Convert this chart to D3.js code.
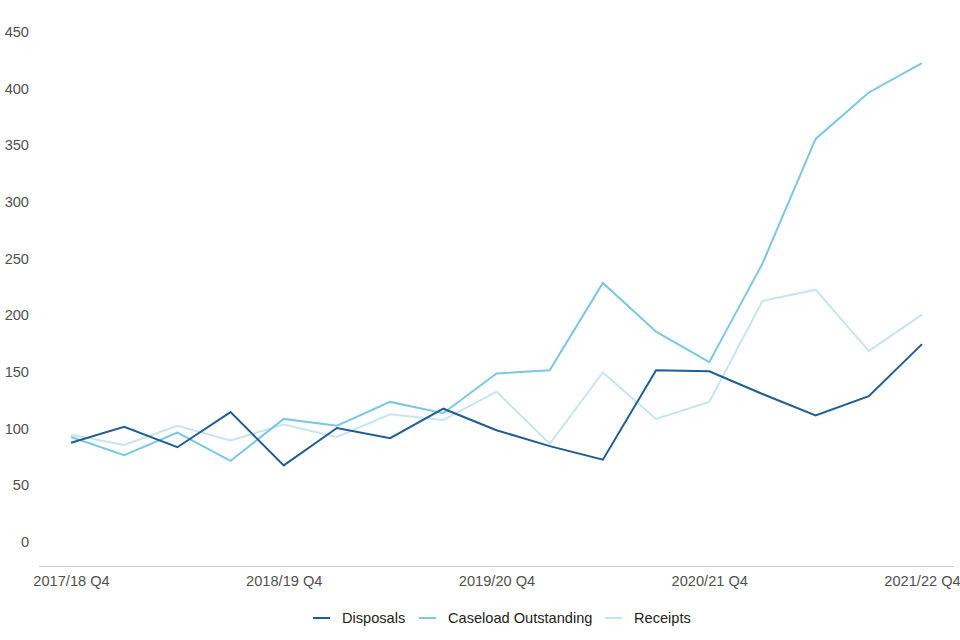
<!DOCTYPE html>
<html>
<head>
<meta charset="utf-8">
<script src="https://cdn.jsdelivr.net/npm/d3@7"></script>
<style>
  html, body { margin: 0; padding: 0; background: #fff; }
  svg { display: block; font-family: "Liberation Sans", Arial, Helvetica, sans-serif; }
</style>
</head>
<body>
<svg id="chart" width="960" height="640"></svg>
<script>
const quarters = [
  "2017/18 Q4", "2018/19 Q1", "2018/19 Q2", "2018/19 Q3",
  "2018/19 Q4", "2019/20 Q1", "2019/20 Q2", "2019/20 Q3",
  "2019/20 Q4", "2020/21 Q1", "2020/21 Q2", "2020/21 Q3",
  "2020/21 Q4", "2021/22 Q1", "2021/22 Q2", "2021/22 Q3",
  "2021/22 Q4"
];
const disposals = [87, 101, 83, 114, 67, 100, 91, 117, 98, 84, 72, 151, 150, 130, 111, 128, 174];
const caseload  = [92, 76, 96, 71, 108, 102, 123, 113, 148, 151, 228, 185, 158, 245, 355, 396, 422];
const receipts  = [94, 85, 102, 89, 103, 92, 112, 107, 132, 86, 149, 108, 123, 212, 222, 168, 200];
const seriesNames = ["Disposals", "Caseload Outstanding", "Receipts"];
const seriesColors = ["#1f5d98", "#7ac8e2", "#c8e4ee"];
const yTicks = [0, 50, 100, 150, 200, 250, 300, 350, 400, 450];
const xTickLabels = ["2017/18 Q4", "2018/19 Q4", "2019/20 Q4", "2020/21 Q4", "2021/22 Q4"];

const series = [disposals, caseload, receipts];
const svg = d3.select("#chart");
const fontSize = "14.6px";

const x = d3.scalePoint().domain(quarters).range([71, 922]);
const y = d3.scaleLinear().domain([0, 450]).range([541.3, 31.3]);
const axisY = 566.5;

// x axis baseline
svg.append("line")
  .attr("x1", 39).attr("x2", 954)
  .attr("y1", axisY).attr("y2", axisY)
  .attr("stroke", "#cccccc").attr("stroke-width", 1);

// x tick labels
const xAxis = d3.axisBottom(x).tickValues(xTickLabels).tickSize(0).tickPadding(0);
const gx = svg.append("g").attr("transform", `translate(0,${axisY})`).call(xAxis);
gx.select(".domain").remove();
gx.selectAll("text")
  .attr("dy", "0").attr("y", 19)
  .attr("fill", "#505050").style("font-size", fontSize)
  .style("font-family", "'Liberation Sans', Arial, sans-serif");

// y tick labels
const yAxis = d3.axisLeft(y).tickValues(yTicks).tickSize(0).tickPadding(0);
const gy = svg.append("g").attr("transform", "translate(29,0)").call(yAxis);
gy.select(".domain").remove();
gy.selectAll("text")
  .attr("x", 0).attr("dy", "0.35em")
  .attr("fill", "#505050").style("font-size", fontSize)
  .style("font-family", "'Liberation Sans', Arial, sans-serif");

// lines (draw receipts first so darker lines sit on top)
const line = d3.line().x((d, i) => x(quarters[i])).y(d => y(d));
[2, 1, 0].forEach(k => {
  svg.append("path")
    .datum(series[k])
    .attr("d", line)
    .attr("fill", "none")
    .attr("stroke", seriesColors[k])
    .attr("stroke-width", 2)
    .attr("stroke-linejoin", "miter");
});

// legend
const legendY = 618;
const legendItems = [
  { name: seriesNames[0], color: seriesColors[0], x0: 313 },
  { name: seriesNames[1], color: seriesColors[1], x0: 419 },
  { name: seriesNames[2], color: seriesColors[2], x0: 605 }
];
const lg = svg.append("g");
legendItems.forEach(it => {
  lg.append("line")
    .attr("x1", it.x0).attr("x2", it.x0 + 17)
    .attr("y1", legendY).attr("y2", legendY)
    .attr("stroke", it.color).attr("stroke-width", 2);
  lg.append("text")
    .attr("x", it.x0 + 29).attr("y", legendY).attr("dy", "0.35em")
    .attr("fill", "#222222").style("font-size", fontSize)
    .text(it.name);
});
</script>
</body>
</html>
